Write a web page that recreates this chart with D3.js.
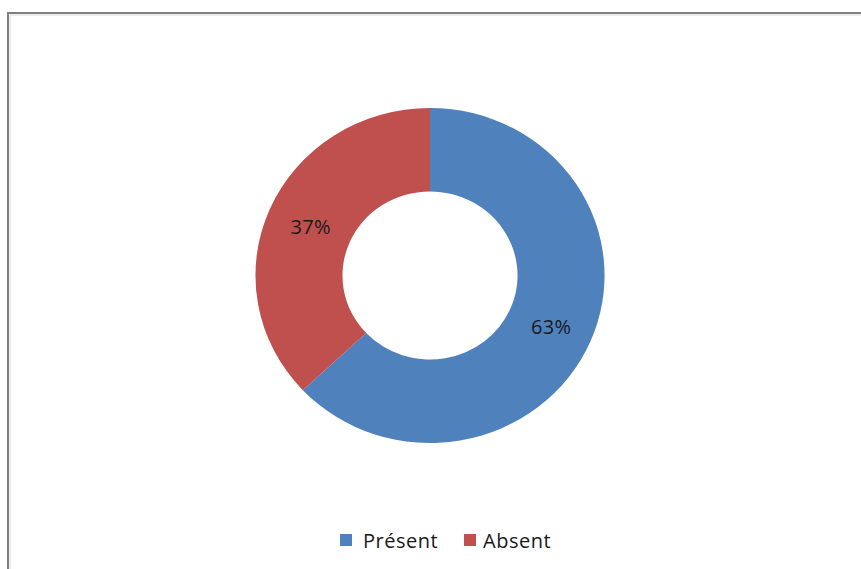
<!DOCTYPE html>
<html>
<head>
<meta charset="utf-8">
<script src="https://cdn.jsdelivr.net/npm/d3@7"></script>
<style>
  html, body { margin: 0; padding: 0; background: #fff; }
  svg { display: block; }
</style>
</head>
<body>
<svg id="chart" width="861" height="569"></svg>
<script>
// Presence shares (percent)
const categories = ["Présent", "Absent"];
const values = [63, 37];
const colors = ["#4f81bd", "#c0504d"];

const svg = d3.select("#chart");
const W = 861, H = 569;

// Chart area frame (continues past the right and bottom edges)
const frame = svg.append("g");
frame.append("path")
  .attr("d", `M8,${H + 5} V13 H${W + 5}`)
  .attr("fill", "none").attr("stroke", "#808080").attr("stroke-width", 2);
frame.append("path")
  .attr("d", `M10,${H + 5} V15 H${W + 5}`)
  .attr("fill", "none").attr("stroke", "#d9d9d9").attr("stroke-width", 1);

// Doughnut
const cx = 430, cy = 275.5;
const outerR = 167.5, innerR = 84;
const sx = 1.042; // horizontal stretch of the plot area

const pie = d3.pie().sort(null).value(d => d.value);
const arcs = pie(categories.map((c, i) => ({ cat: c, value: values[i], color: colors[i] })));
const arc = d3.arc().innerRadius(innerR).outerRadius(outerR);

const ring = svg.append("g").attr("transform", `translate(${cx},${cy}) scale(${sx},1)`);
ring.selectAll("path")
  .data(arcs)
  .join("path")
  .attr("d", arc)
  .attr("fill", d => d.data.color);

const font = "'Open Sans', 'DejaVu Sans', sans-serif";

// Percentage labels at slice centroids
const total = d3.sum(values);
svg.append("g")
  .selectAll("text")
  .data(arcs)
  .join("text")
  .attr("x", d => cx + arc.centroid(d)[0] * sx + 1)
  .attr("y", d => cy + arc.centroid(d)[1] + 1)
  .attr("text-anchor", "middle")
  .attr("dominant-baseline", "central")
  .attr("font-family", font)
  .attr("font-size", 20)
  .attr("letter-spacing", 0.3)
  .attr("fill", "#1a1a1a")
  .text(d => Math.round(d.data.value / total * 100) + "%");

// Legend
const legend = svg.append("g").attr("transform", "translate(340,540)");
const legendX = [0, 124];
const item = legend.selectAll("g")
  .data(categories)
  .join("g")
  .attr("transform", (d, i) => `translate(${legendX[i]},0)`);
item.append("rect")
  .attr("x", 0).attr("y", -6).attr("width", 12).attr("height", 12)
  .attr("fill", (d, i) => colors[i]);
item.append("text")
  .attr("x", (d, i) => i === 0 ? 23 : 19)
  .attr("y", 0)
  .attr("dominant-baseline", "central")
  .attr("font-family", font)
  .attr("font-size", 20)
  .attr("letter-spacing", 0.5)
  .attr("fill", "#1a1a1a")
  .text(d => d);
</script>
</body>
</html>
